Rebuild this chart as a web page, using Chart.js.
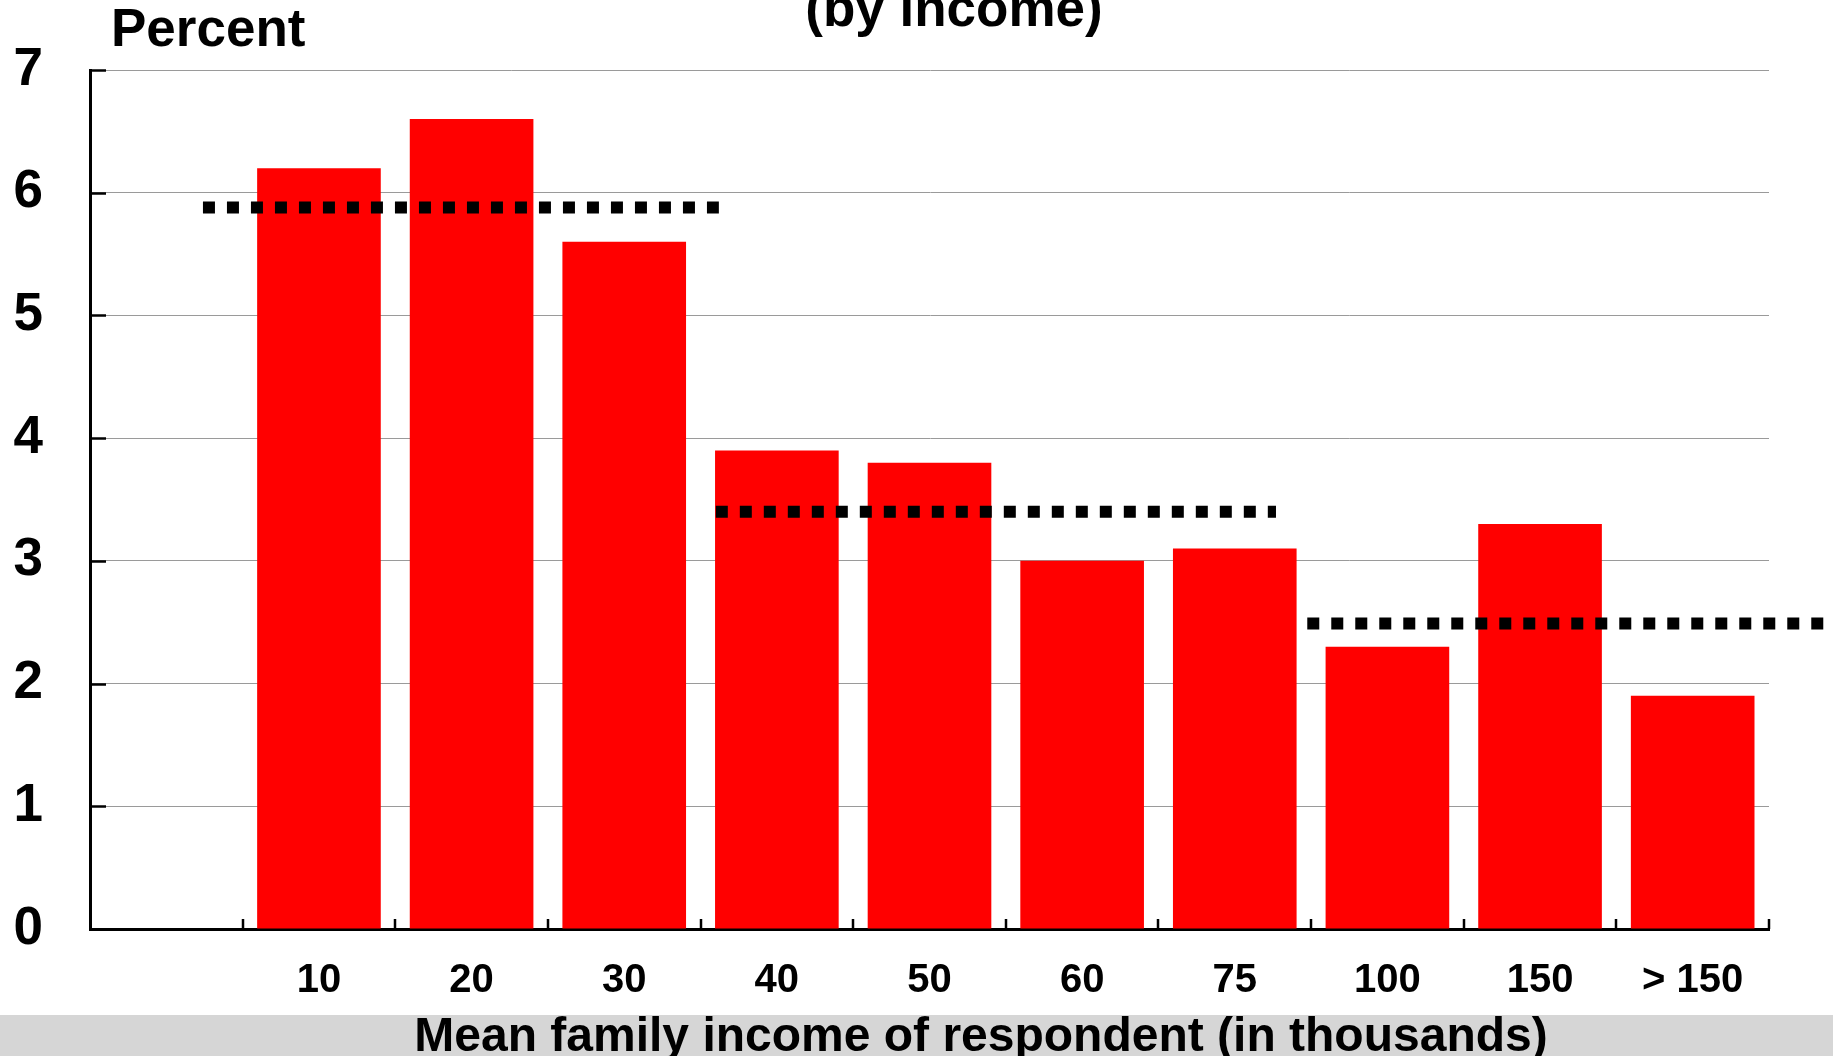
<!DOCTYPE html>
<html>
<head>
<meta charset="utf-8">
<script src="https://cdn.jsdelivr.net/npm/chart.js@4"></script>
<style>
  html, body { margin: 0; padding: 0; background: #fff; }
  #wrap { width: 1833px; height: 1056px; position: relative; }
</style>
</head>
<body>
<div id="wrap"><canvas id="c"></canvas></div>
<script>
// ---- data ----
const categories = ['', '10', '20', '30', '40', '50', '60', '75', '100', '150', '> 150'];
const percentValues = [null, 6.2, 6.6, 5.6, 3.9, 3.8, 3.0, 3.1, 2.3, 3.3, 1.9];
// dotted average lines (level, start and end in category-index units)
const avgLevels = [5.88, 3.4, 2.49];
const avgFrom = [0.24, 3.6, 7.475];
const avgTo = [3.62, 7.27, 10.86];
const yMin = 0, yMax = 7, yStep = 1;
const titleText = '(by income)';
const yTitleText = 'Percent';
const xTitleText = 'Mean family income of respondent (in thousands)';

const FONT = '"Liberation Sans", Arial, Helvetica, sans-serif';

const lineDatasets = avgLevels.map((lvl, i) => ({
  type: 'line',
  xAxisID: 'xl',
  data: [{ x: avgFrom[i], y: lvl }, { x: avgTo[i], y: lvl }],
  borderColor: '#000',
  borderWidth: 12,
  borderDash: [12, 12],
  borderCapStyle: 'butt',
  pointRadius: 0,
  tension: 0,
  clip: false,
  order: 0
}));

const decorPlugin = {
  id: 'decor',
  beforeDraw(chart) {
    const ctx = chart.ctx;
    ctx.save();
    ctx.fillStyle = '#d6d6d6';
    ctx.fillRect(0, 1015, chart.width, chart.height - 1015);
    ctx.restore();
  },
  afterDraw(chart) {
    const ctx = chart.ctx;
    const ca = chart.chartArea;
    const ys = chart.scales.y, xs = chart.scales.x;
    ctx.save();
    ctx.strokeStyle = '#000';
    ctx.lineWidth = 2.5;
    // inward y ticks
    for (let v = yMin + yStep; v <= yMax; v += yStep) {
      const py = Math.round(ys.getPixelForValue(v)) + 0.5;
      ctx.beginPath(); ctx.moveTo(ca.left, py); ctx.lineTo(ca.left + 16, py); ctx.stroke();
    }
    // inward x ticks at category boundaries
    for (let i = 1; i <= categories.length; i++) {
      const px = Math.round(xs.getPixelForValue(i - 0.5));
      ctx.beginPath(); ctx.moveTo(px, ca.bottom); ctx.lineTo(px, ca.bottom - 10); ctx.stroke();
    }
    // texts
    ctx.fillStyle = '#000';
    ctx.textBaseline = 'alphabetic';
    ctx.font = 'bold 53px ' + FONT;
    ctx.textAlign = 'center';
    ctx.fillText(titleText, 954, 26);
    ctx.textAlign = 'left';
    ctx.fillText(yTitleText, 111, 46);
    ctx.font = 'bold 48px ' + FONT;
    ctx.textAlign = 'center';
    ctx.fillText(xTitleText, 981, 1051);
    ctx.restore();
  }
};

new Chart(document.getElementById('c'), {
  type: 'bar',
  data: {
    labels: categories,
    datasets: [
      {
        type: 'bar',
        data: percentValues,
        backgroundColor: '#ff0000',
        borderWidth: 0,
        barPercentage: 0.81,
        categoryPercentage: 1,
        grouped: false,
        order: 1
      },
      ...lineDatasets
    ]
  },
  options: {
    responsive: true,
    maintainAspectRatio: false,
    animation: false,
    layout: { padding: { left: 0, right: 64, top: 70, bottom: 0 } },
    plugins: { legend: { display: false }, title: { display: false }, tooltip: { enabled: false } },
    scales: {
      x: {
        type: 'category',
        offset: true,
        grid: { display: true, drawOnChartArea: false, drawTicks: false, offset: true },
        border: { display: true, color: '#000', width: 3 },
        ticks: { color: '#000', font: { family: FONT, size: 40, weight: 'bold' }, padding: 28, maxRotation: 0, autoSkip: false },
        afterFit(s) { s.height = 127; s.paddingLeft = 0; s.paddingRight = 0; }
      },
      xl: {
        type: 'linear',
        display: false,
        offset: false,
        grid: { offset: false },
        min: -0.5,
        max: categories.length - 0.5
      },
      y: {
        min: yMin,
        max: yMax,
        ticks: { stepSize: yStep, color: '#000', font: { family: FONT, size: 53, weight: 'bold' }, padding: 47 },
        grid: { color: '#9a9a9a', lineWidth: 1, drawTicks: false },
        border: { display: true, color: '#000', width: 3 },
        afterFit(s) { s.width = 90; s.paddingTop = 0; s.paddingBottom = 0; }
      }
    }
  },
  plugins: [decorPlugin]
});
</script>
</body>
</html>
